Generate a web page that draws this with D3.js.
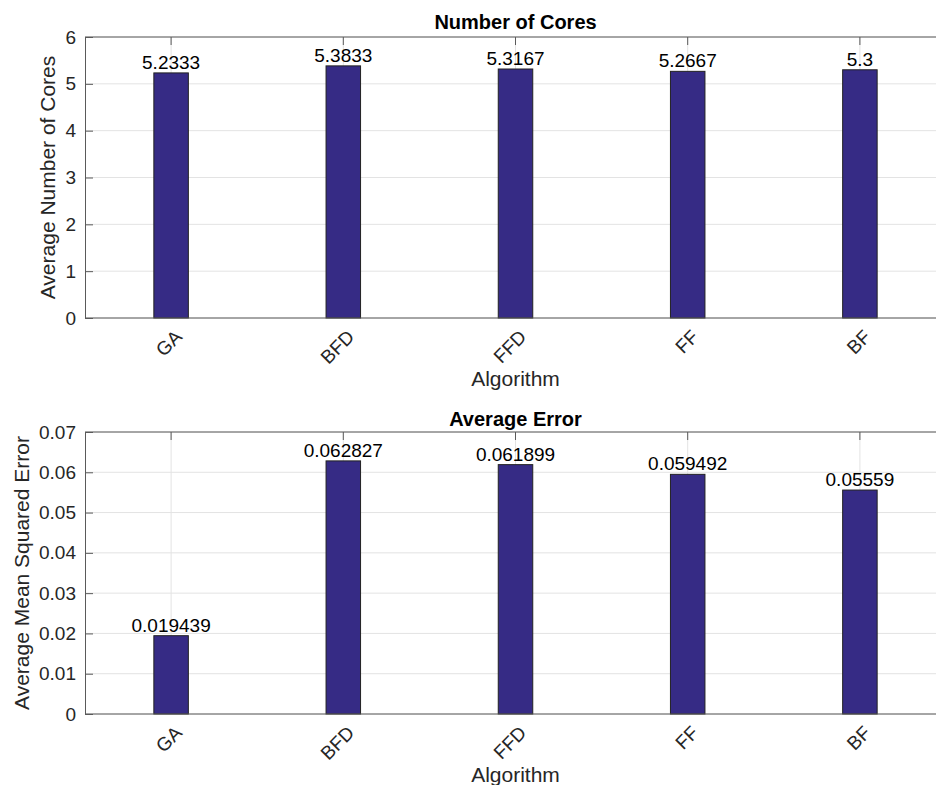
<!DOCTYPE html>
<html><head><meta charset="utf-8">
<script src="https://cdn.jsdelivr.net/npm/d3@7"></script>
<style>body{margin:0;background:#fff}svg{display:block;font-family:"Liberation Sans",Arial,Helvetica,sans-serif}</style>
</head><body><svg id="c" width="936" height="785"></svg>
<script>
const categories = ["GA","BFD","FFD","FF","BF"];
const coresValues = [5.2333,5.3833,5.3167,5.2667,5.3];
const coresLabels = ["5.2333","5.3833","5.3167","5.2667","5.3"];
const errorValues = [0.019439,0.062827,0.061899,0.059492,0.05559];
const errorLabels = ["0.019439","0.062827","0.061899","0.059492","0.05559"];
const coresTicks = [0,1,2,3,4,5,6];
const errorTicks = [0,0.01,0.02,0.03,0.04,0.05,0.06,0.07];

const svg = d3.select("#c");
const axisColor = "#5a5a5a";
const gridColor = "#e3e3e3";
const barColor = "#362b85";
const textColor = "#262626";

function panel(opt){
  const {top,bottom,left,right,values,labels,ticks,ymax,title,ylabel,ylabelX,tickFmt,titleY} = opt;
  const g = svg.append("g");
  const x = d3.scaleBand().domain(categories).range([left,right]).paddingInner(0).paddingOuter(0);
  const y = d3.scaleLinear().domain([0,ymax]).range([bottom,top]);
  const bw = 34.5;
  // grid
  g.selectAll(".hg").data(ticks).join("line")
    .attr("x1",left).attr("x2",right).attr("y1",d=>y(d)).attr("y2",d=>y(d))
    .attr("stroke",gridColor).attr("stroke-width",1);
  g.selectAll(".vg").data(categories).join("line")
    .attr("x1",d=>x(d)+x.bandwidth()/2).attr("x2",d=>x(d)+x.bandwidth()/2)
    .attr("y1",top).attr("y2",bottom).attr("stroke",gridColor).attr("stroke-width",1);
  // bars
  g.selectAll("rect").data(values).join("rect")
    .attr("x",(d,i)=>x(categories[i])+x.bandwidth()/2-bw/2)
    .attr("width",bw)
    .attr("y",d=>y(d)).attr("height",d=>bottom-y(d))
    .attr("fill",barColor).attr("stroke","#222").attr("stroke-width",1);
  // value labels
  g.selectAll(".vl").data(values).join("text")
    .attr("x",(d,i)=>x(categories[i])+x.bandwidth()/2)
    .attr("y",d=>y(d)-4)
    .attr("text-anchor","middle").attr("font-size",19).attr("fill","#000")
    .text((d,i)=>labels[i]);
  // y axis
  const ya = d3.axisLeft(y).tickValues(ticks).tickSize(-8).tickPadding(9).tickFormat(tickFmt);
  const yg = g.append("g").attr("transform",`translate(${left},0)`).call(ya);
  yg.attr("font-family",null);
  yg.select(".domain").attr("stroke",axisColor);
  yg.selectAll(".tick line").attr("stroke",axisColor);
  yg.selectAll(".tick text").attr("font-size",19).attr("fill",textColor);
  // top & bottom lines
  g.append("line").attr("x1",left).attr("x2",right).attr("y1",top).attr("y2",top).attr("stroke",axisColor);
  g.append("line").attr("x1",left).attr("x2",right).attr("y1",bottom).attr("y2",bottom).attr("stroke",axisColor);
  // top ticks
  g.selectAll(".tt").data(categories).join("line")
    .attr("x1",d=>x(d)+x.bandwidth()/2).attr("x2",d=>x(d)+x.bandwidth()/2)
    .attr("y1",top).attr("y2",top+8).attr("stroke",axisColor);
  // x tick labels
  g.selectAll(".xl").data(categories).join("text")
    .attr("transform",d=>`translate(${x(d)+x.bandwidth()/2+2},${bottom+10}) rotate(-45)`)
    .attr("text-anchor","end").attr("dy","0.75em").attr("font-size",19).attr("fill",textColor)
    .text(d=>d);
  // x label
  g.append("text").attr("x",(left+right)/2).attr("y",bottom+68)
    .attr("text-anchor","middle").attr("font-size",21).attr("fill",textColor).text("Algorithm");
  // title
  g.append("text").attr("x",(left+right)/2).attr("y",titleY)
    .attr("text-anchor","middle").attr("font-size",20).attr("font-weight","bold").attr("fill","#000").text(title);
  // y label
  g.append("text").attr("transform",`translate(${ylabelX},${(top+bottom)/2}) rotate(-90)`)
    .attr("text-anchor","middle").attr("font-size",21).attr("fill",textColor).text(ylabel);
}

panel({top:37,bottom:318,left:85,right:946,values:coresValues,labels:coresLabels,ticks:coresTicks,ymax:6,
  title:"Number of Cores",titleY:29,ylabel:"Average Number of Cores",ylabelX:55,tickFmt:d3.format("d")});
panel({top:432,bottom:714,left:85,right:946,values:errorValues,labels:errorLabels,ticks:errorTicks,ymax:0.07,
  title:"Average Error",titleY:426,ylabel:"Average Mean Squared Error",ylabelX:29,tickFmt:d=>d===0?"0":d3.format(".2f")(d)});
</script></body></html>
